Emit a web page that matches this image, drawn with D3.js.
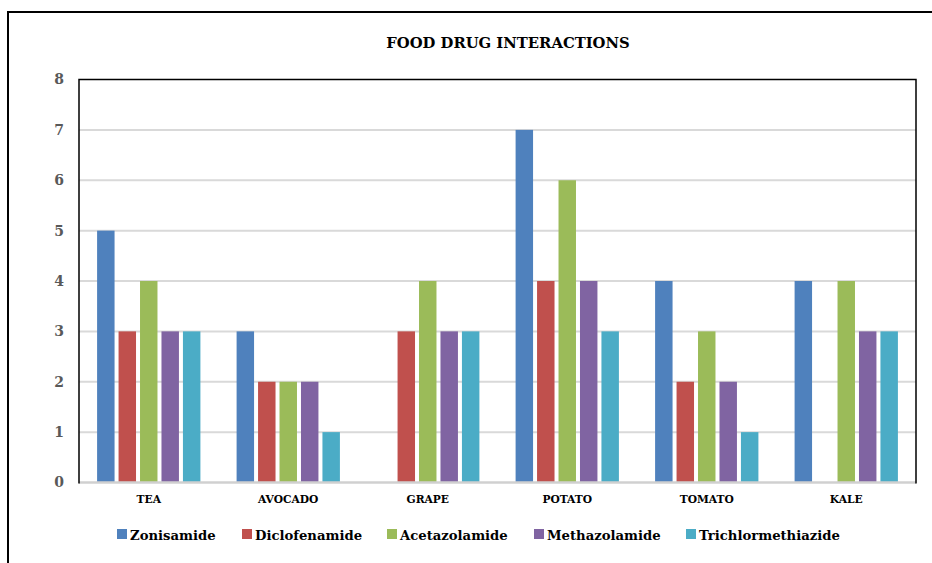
<!DOCTYPE html>
<html>
<head>
<meta charset="utf-8">
<script src="https://cdn.jsdelivr.net/npm/d3@7"></script>
<style>
  html, body { margin: 0; padding: 0; background: #fff; }
  svg { display: block; }
</style>
</head>
<body>
<svg id="chart" width="932" height="563"></svg>
<script>
// Food categories along the x axis
const categories = ["TEA", "AVOCADO", "GRAPE", "POTATO", "TOMATO", "KALE"];

// One array of interaction counts per drug
const seriesNames = ["Zonisamide", "Diclofenamide", "Acetazolamide", "Methazolamide", "Trichlormethiazide"];
const zonisamide = [5, 3, 0, 7, 4, 4];
const diclofenamide = [3, 2, 3, 4, 2, 0];
const acetazolamide = [4, 2, 4, 6, 3, 4];
const methazolamide = [3, 2, 3, 4, 2, 3];
const trichlormethiazide = [3, 1, 3, 3, 1, 3];
const seriesValues = [zonisamide, diclofenamide, acetazolamide, methazolamide, trichlormethiazide];
const seriesColors = ["#4f81bd", "#c0504d", "#9bbb59", "#8064a2", "#4bacc6"];

// Y axis ticks
const yTicks = [0, 1, 2, 3, 4, 5, 6, 7, 8];

const svg = d3.select("#chart");
const serif = "'DejaVu Serif', serif";

const plot = { left: 79, right: 916, top: 79.5, bottom: 482.5 };

// Outer chart frame (only left and top edges fall inside the view)
svg.append("path")
  .attr("d", "M8,600 L8,12 L960,12")
  .attr("fill", "none").attr("stroke", "#000").attr("stroke-width", 2);

const x0 = d3.scaleBand().domain(categories).range([plot.left, plot.right]).paddingInner(0).paddingOuter(0);
// 150% gap: 5 bars + 1.5 bar widths of spacing per category
const slot = x0.bandwidth() / 6.5;
const x1 = d3.scaleBand().domain(seriesNames)
  .range([slot * 0.75, slot * 5.75]).padding(0);
const y = d3.scaleLinear().domain([0, 8]).range([plot.bottom, plot.top]);

// Gridlines
svg.append("g").selectAll("line").data(yTicks.filter(t => t > 0 && t < 8)).join("line")
  .attr("x1", plot.left).attr("x2", plot.right)
  .attr("y1", d => y(d)).attr("y2", d => y(d))
  .attr("stroke", "#d9d9d9").attr("stroke-width", 2);

// Bars
const groups = svg.append("g").selectAll("g").data(categories).join("g")
  .attr("transform", d => `translate(${x0(d)},0)`);
groups.selectAll("rect")
  .data((c, ci) => seriesNames.map((s, si) => ({ s, si, v: seriesValues[si][ci] })))
  .join("rect")
  .filter(d => d.v > 0)
  .attr("x", d => x1(d.s) + 2)
  .attr("width", x1.bandwidth() - 4)
  .attr("y", d => y(d.v))
  .attr("height", d => y(0) - y(d.v))
  .attr("fill", d => seriesColors[d.si]);

// Category axis line
svg.append("line")
  .attr("x1", plot.left).attr("x2", plot.right)
  .attr("y1", y(0)).attr("y2", y(0))
  .attr("stroke", "#d0d0d0").attr("stroke-width", 2.5);

// Plot frame: top, left, right
svg.append("path")
  .attr("d", `M${plot.left},${plot.bottom + 1} L${plot.left},${plot.top} L${plot.right},${plot.top} L${plot.right},${plot.bottom + 1}`)
  .attr("fill", "none").attr("stroke", "#000").attr("stroke-width", 1.5);

// Y axis labels
const yAxis = d3.axisLeft(y).tickValues(yTicks).tickSize(0).tickPadding(15).tickFormat(d3.format("d"));
const yg = svg.append("g").attr("transform", `translate(${plot.left},0)`).call(yAxis);
yg.select(".domain").remove();
yg.selectAll("text")
  .attr("font-family", serif).attr("font-weight", "bold").attr("font-size", 14)
  .attr("fill", "#595959");

// X axis labels
const xAxis = d3.axisBottom(x0).tickSize(0).tickPadding(13);
const xg = svg.append("g").attr("transform", `translate(0,${plot.bottom})`).call(xAxis);
xg.select(".domain").remove();
xg.selectAll("text")
  .attr("font-family", serif).attr("font-weight", "bold").attr("font-size", 10.7)
  .attr("fill", "#000");

// Title
svg.append("text")
  .attr("x", 508).attr("y", 48)
  .attr("text-anchor", "middle")
  .attr("font-family", serif).attr("font-weight", "bold").attr("font-size", 14.8)
  .attr("fill", "#000")
  .text("FOOD DRUG INTERACTIONS");

// Legend
const legendX = [117, 242, 387, 534, 686];
const legend = svg.append("g").selectAll("g").data(seriesNames).join("g")
  .attr("transform", (d, i) => `translate(${legendX[i]},529)`);
legend.append("rect")
  .attr("width", 10).attr("height", 10)
  .attr("fill", (d, i) => seriesColors[i]);
legend.append("text")
  .attr("x", 13).attr("y", 10.5)
  .attr("font-family", serif).attr("font-weight", "bold").attr("font-size", 13.2)
  .attr("fill", "#000")
  .text(d => d);
</script>
</body>
</html>
